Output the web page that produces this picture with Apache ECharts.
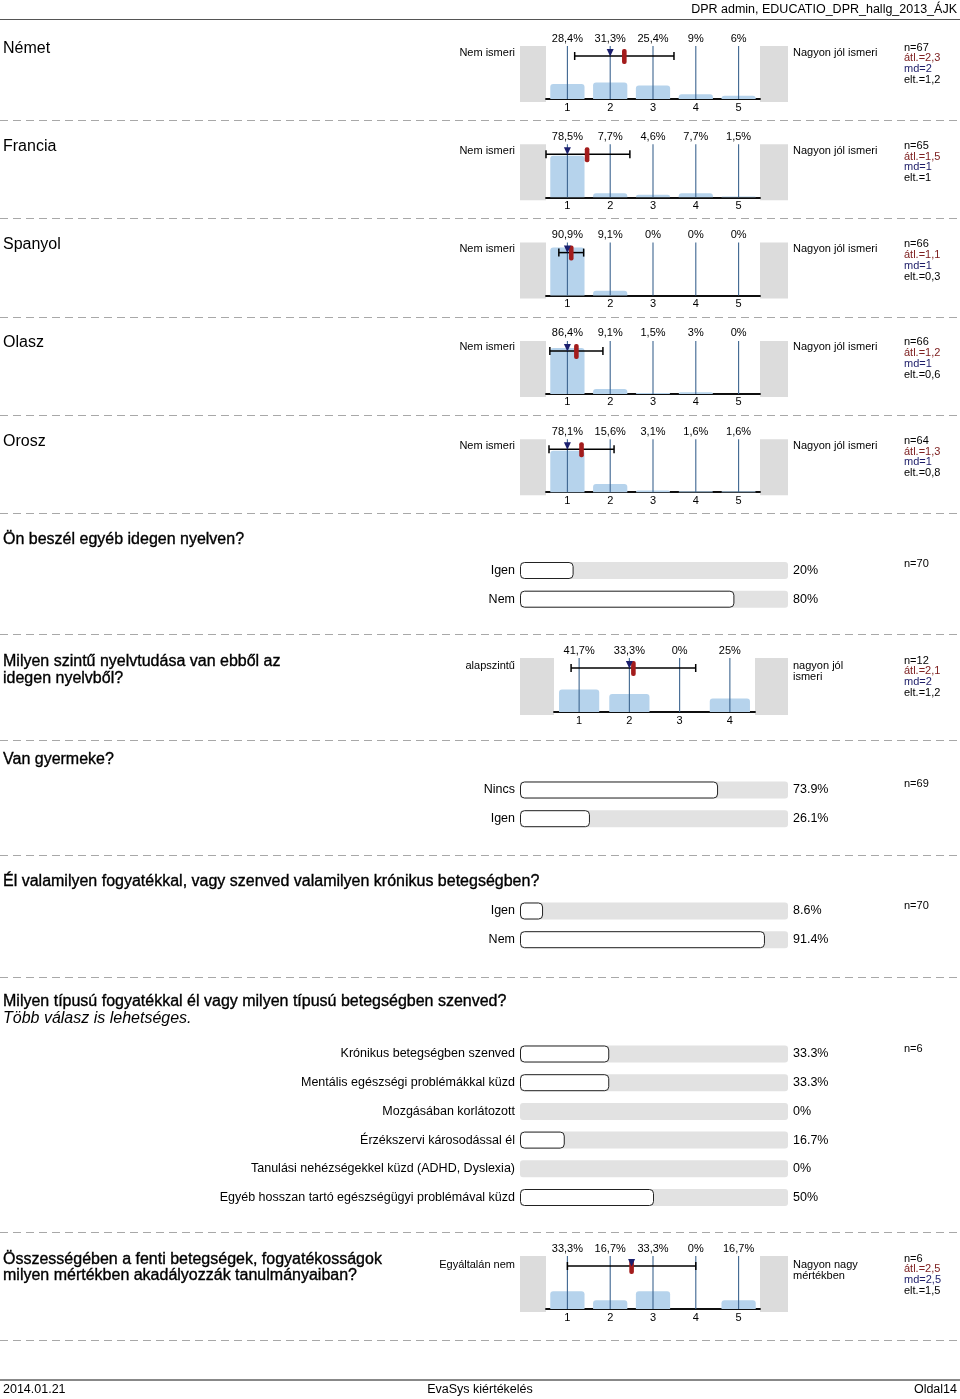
<!DOCTYPE html>
<html><head><meta charset="utf-8">
<script src="https://cdn.jsdelivr.net/npm/echarts@6/dist/echarts.min.js"></script>
<style>
html,body{margin:0;padding:0;background:#fff}
body{width:960px;height:1399px;position:relative;overflow:hidden;font-family:'Liberation Sans',Arial,sans-serif}
#chart{position:absolute;left:0;top:0;width:960px;height:1399px}
.t{position:absolute;white-space:nowrap;color:#000}
.q{-webkit-text-stroke:0.35px #000}
.dash{position:absolute;left:0;width:960px;height:1px;background:repeating-linear-gradient(to right,#a8a8a8 0 8px,transparent 8px 13px)}
.hl{position:absolute;left:0;width:960px}
</style></head><body>
<div id="chart"></div>
<script>
// ---------------- data ----------------
const langNames = ['Német', 'Francia', 'Spanyol', 'Olasz', 'Orosz'];
const scale5 = ['1', '2', '3', '4', '5'];
const nemetPct = [28.4, 31.3, 25.4, 9, 6];
const franciaPct = [78.5, 7.7, 4.6, 7.7, 1.5];
const spanyolPct = [90.9, 9.1, 0, 0, 0];
const olaszPct = [86.4, 9.1, 1.5, 3, 0];
const oroszPct = [78.1, 15.6, 3.1, 1.6, 1.6];
const langN = [67, 65, 66, 66, 64];
const langMean = [2.33, 1.46, 1.09, 1.21, 1.33];
const langMedian = [2, 1, 1, 1, 1];
const langSd = [1.16, 1.0, 0.29, 0.62, 0.76];

const otherLangCats = ['Igen', 'Nem'];
const otherLangPct = [20, 80];
const otherLangN = 70;

const levelCats = ['1', '2', '3', '4'];
const levelPct = [41.7, 33.3, 0, 25];
const levelN = 12, levelMean = 2.08, levelMedian = 2, levelSd = 1.24;

const childCats = ['Nincs', 'Igen'];
const childPct = [73.9, 26.1];
const childN = 69;

const disabCats = ['Igen', 'Nem'];
const disabPct = [8.6, 91.4];
const disabN = 70;

const typeCats = ['Krónikus betegségben szenved', 'Mentális egészségi problémákkal küzd', 'Mozgásában korlátozott',
  'Érzékszervi károsodással él', 'Tanulási nehézségekkel küzd (ADHD, Dyslexia)', 'Egyéb hosszan tartó egészségügyi problémával küzd'];
const typePct = [33.3, 33.3, 0, 16.7, 0, 50];
const typeN = 6;

const hinderPct = [33.3, 16.7, 33.3, 0, 16.7];
const hinderN = 6, hinderMean = 2.5, hinderMedian = 2.5, hinderSd = 1.5;

// ---------------- helpers ----------------
const FONT = "'Liberation Sans', Arial, sans-serif";
const fmtC = v => (Math.round(v * 10) / 10).toString().replace('.', ',');
const fmtPctC = v => fmtC(v) + '%';

function T(txt, x, y, o) {
  o = o || {};
  const size = o.size || 11;
  const d = document.createElement('div');
  d.className = 't' + (o.q ? ' q' : '');
  d.textContent = txt;
  d.style.fontSize = size + 'px';
  const lh = Math.round(size * 1.2);
  d.style.lineHeight = lh + 'px';
  d.style.top = (y - lh / 2) + 'px';
  if (o.align === 'right') d.style.right = (960 - x) + 'px';
  else if (o.align === 'center') { d.style.left = x + 'px'; d.style.transform = 'translateX(-50%)'; }
  else d.style.left = x + 'px';
  if (o.color) d.style.color = o.color;
  if (o.italic) d.style.fontStyle = 'italic';
  document.body.appendChild(d);
}
function dash(y) { const d = document.createElement('div'); d.className = 'dash'; d.style.top = y + 'px'; document.body.appendChild(d); }
function hline(y, h, c) { const d = document.createElement('div'); d.className = 'hl'; d.style.top = y + 'px'; d.style.height = h + 'px'; d.style.background = c; document.body.appendChild(d); }
function stats(y, n, mean, md, sd) {
  T('n=' + n, 904, y);
  T('átl.=' + fmtC(mean), 904, y + 10.8, { color: '#7e2020' });
  T('md=' + fmtC(md), 904, y + 21.6, { color: '#1c1c68' });
  T('elt.=' + fmtC(sd), 904, y + 32.4);
}

const grids = [], xAxes = [], yAxes = [], series = [], graphics = [];

function distChart(c) {
  const g = grids.length;
  const n = c.cats.length;
  grids.push({ left: c.left, top: c.top, width: c.width, height: c.height });
  graphics.push({ type: 'rect', z: -10, shape: { x: 520, y: c.top, width: c.left - 520, height: c.height + 3 }, style: { fill: '#dcdcdc' } });
  graphics.push({ type: 'rect', z: -10, shape: { x: c.left + c.width, y: c.top, width: 788 - c.left - c.width, height: c.height + 3 }, style: { fill: '#dcdcdc' } });
  const axBase = { gridIndex: g, axisTick: { show: false }, splitLine: { show: false },
    axisLine: { show: true, lineStyle: { color: '#000', width: 1.5 } },
    axisLabel: { margin: 2, fontSize: 11, color: '#000', fontFamily: FONT } };
  xAxes.push(Object.assign({ type: 'category', position: 'top', data: c.pct.map(fmtPctC) }, axBase));
  const xBot = xAxes.length;
  xAxes.push(Object.assign({ type: 'category', position: 'bottom', data: c.cats }, axBase, { axisLabel: { margin: 3, fontSize: 11, color: '#000', fontFamily: FONT } }));
  const xVal = xAxes.length;
  xAxes.push({ type: 'value', gridIndex: g, min: 0.5, max: n + 0.5, show: false });
  const yi = yAxes.length;
  yAxes.push({ type: 'value', gridIndex: g, min: 0, max: 100, show: false });
  series.push({ type: 'bar', xAxisIndex: xBot, yAxisIndex: yi, data: c.pct, barCategoryGap: '20%', silent: true, z: 2,
    itemStyle: { color: '#b6d3ec', borderRadius: [3, 3, 0, 0] } });
  series.push({ type: 'custom', xAxisIndex: xVal, yAxisIndex: yi, silent: true, z: 3,
    data: c.cats.map(v => [Number(v), 0]),
    renderItem: (p, api) => {
      const a = api.coord([api.value(0), 0]), b = api.coord([api.value(0), 100]);
      return { type: 'line', shape: { x1: a[0], y1: a[1], x2: b[0], y2: b[1] }, style: { stroke: '#3d6590', lineWidth: 1.1 } };
    } });
  series.push({ type: 'custom', xAxisIndex: xVal, yAxisIndex: yi, silent: true, z: 5,
    data: [[c.mean, 100, c.median, c.sd]],
    renderItem: (p, api) => {
      const m = api.value(0), md = api.value(2), sd = api.value(3);
      const lo = Math.max(m - sd, 0.5), hi = Math.min(m + sd, n + 0.5);
      const yy = api.coord([m, 100])[1] + 10;
      const xl = api.coord([lo, 100])[0], xh = api.coord([hi, 100])[0];
      const xm = api.coord([m, 100])[0], xmd = api.coord([md, 100])[0];
      const ls = { stroke: '#000', lineWidth: 1.5 };
      return { type: 'group', children: [
        { type: 'line', shape: { x1: xl, y1: yy, x2: xh, y2: yy }, style: ls },
        { type: 'line', shape: { x1: xl, y1: yy - 4, x2: xl, y2: yy + 4 }, style: ls },
        { type: 'line', shape: { x1: xh, y1: yy - 4, x2: xh, y2: yy + 4 }, style: ls },
        { type: 'rect', shape: { x: xm - 2.3, y: yy - 7, width: 4.6, height: 15, r: 2 }, style: { fill: '#a31c1c' } },
        { type: 'polygon', shape: { points: [[xmd - 3.5, yy - 7], [xmd + 3.5, yy - 7], [xmd, yy + 0.5]] }, style: { fill: '#1b1f6e' } }
      ] };
    } });
}

const ROW = 28.7;
function hbar(c) {
  const g = grids.length;
  grids.push({ left: 520, width: 268, top: c.center0 - ROW / 2, height: ROW * c.cats.length });
  const lab = { margin: 5, fontSize: 12.5, color: '#000', fontFamily: FONT };
  const yl = yAxes.length;
  yAxes.push({ type: 'category', gridIndex: g, inverse: true, data: c.cats, axisLine: { show: false }, axisTick: { show: false }, axisLabel: lab });
  yAxes.push({ type: 'category', gridIndex: g, inverse: true, position: 'right', data: c.pct.map(v => v + '%'), axisLine: { show: false }, axisTick: { show: false }, axisLabel: lab });
  const xi = xAxes.length;
  xAxes.push({ type: 'value', gridIndex: g, min: 0, max: 100, show: false });
  series.push({ type: 'bar', xAxisIndex: xi, yAxisIndex: yl, silent: true, barWidth: 17,
    data: c.pct.map(v => v === 0 ? { value: 0, itemStyle: { borderWidth: 0, color: 'transparent' } } : v),
    showBackground: true, backgroundStyle: { color: '#e2e2e2', borderRadius: 3 },
    itemStyle: { color: '#fff', borderColor: '#222', borderWidth: 1, borderRadius: 4 } });
}

// ---------------- layout ----------------
const STEP = 98.3;
const langPcts = [nemetPct, franciaPct, spanyolPct, olaszPct, oroszPct];
hline(18.5, 1, '#555');
T('DPR admin, EDUCATIO_DPR_hallg_2013_ÁJK', 957, 9, { size: 12.5, align: 'right' });

langNames.forEach((name, i) => {
  const off = i * STEP;
  T(name, 3, 47 + off, { size: 16 });
  T('Nem ismeri', 515, 52 + off, { align: 'right' });
  T('Nagyon jól ismeri', 793, 52 + off);
  stats(47 + off, langN[i], langMean[i], langMedian[i], langSd[i]);
  distChart({ left: 546, width: 214, top: 46 + off, height: 53, cats: scale5, pct: langPcts[i], mean: langMean[i], median: langMedian[i], sd: langSd[i] });
  dash(120 + off);
});

T('Ön beszél egyéb idegen nyelven?', 3, 538, { size: 16, q: true });
T('n=' + otherLangN, 904, 563);
hbar({ center0: 570.5, cats: otherLangCats, pct: otherLangPct });
dash(634);

T('Milyen szintű nyelvtudása van ebből az', 3, 660, { size: 16, q: true });
T('idegen nyelvből?', 3, 677, { size: 16, q: true });
T('alapszintű', 515, 665, { align: 'right' });
T('nagyon jól', 793, 665);
T('ismeri', 793, 676);
stats(660, levelN, levelMean, levelMedian, levelSd);
distChart({ left: 554, width: 201, top: 658, height: 54, cats: levelCats, pct: levelPct, mean: levelMean, median: levelMedian, sd: levelSd });
dash(740);

T('Van gyermeke?', 3, 758, { size: 16, q: true });
T('n=' + childN, 904, 783);
hbar({ center0: 790, cats: childCats, pct: childPct });
dash(855);

T('Él valamilyen fogyatékkal, vagy szenved valamilyen krónikus betegségben?', 3, 880, { size: 16, q: true });
T('n=' + disabN, 904, 905);
hbar({ center0: 911, cats: disabCats, pct: disabPct });
dash(977);

T('Milyen típusú fogyatékkal él vagy milyen típusú betegségben szenved?', 3, 1000, { size: 16, q: true });
T('Több válasz is lehetséges.', 3, 1017, { size: 16, italic: true });
T('n=' + typeN, 904, 1048);
hbar({ center0: 1054, cats: typeCats, pct: typePct });
dash(1232);

T('Összességében a fenti betegségek, fogyatékosságok', 3, 1258, { size: 16, q: true });
T('milyen mértékben akadályozzák tanulmányaiban?', 3, 1274, { size: 16, q: true });
T('Egyáltalán nem', 515, 1264, { align: 'right' });
T('Nagyon nagy', 793, 1264);
T('mértékben', 793, 1275);
stats(1258, hinderN, hinderMean, hinderMedian, hinderSd);
distChart({ left: 546, width: 214, top: 1256, height: 53, cats: scale5, pct: hinderPct, mean: hinderMean, median: hinderMedian, sd: hinderSd });
dash(1340);

hline(1379, 2, '#888');
T('2014.01.21', 3, 1389, { size: 12.5 });
T('EvaSys kiértékelés', 480, 1389, { size: 12.5, align: 'center' });
T('Oldal14', 957, 1389, { size: 12.5, align: 'right' });

const chart = echarts.init(document.getElementById('chart'), null, { renderer: 'canvas' });
chart.setOption({
  animation: false,
  textStyle: { fontFamily: FONT },
  grid: grids.map(g => Object.assign({ containLabel: false, outerBoundsMode: 'none' }, g)),
  xAxis: xAxes,
  yAxis: yAxes,
  series: series,
  graphic: graphics
});
</script>
</body></html>
